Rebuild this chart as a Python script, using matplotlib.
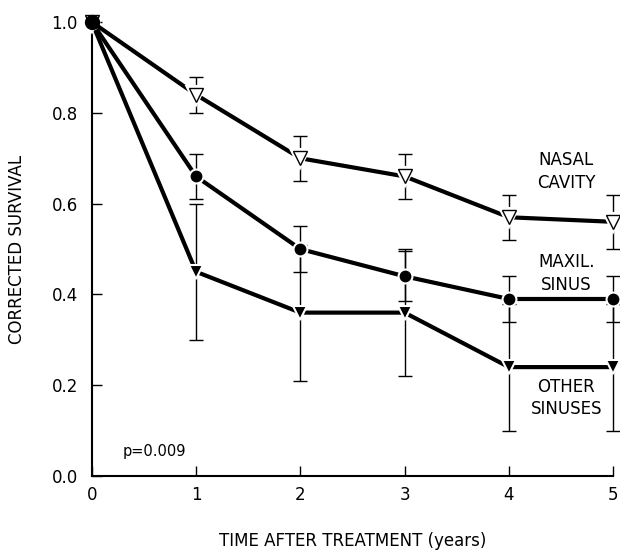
import numpy as np
import matplotlib
matplotlib.use("Agg")
import matplotlib.pyplot as plt

# survival data
years = [0, 1, 2, 3, 4, 5]

nasal = [1.0, 0.84, 0.70, 0.66, 0.57, 0.56]
nasal_err = [0.0, 0.04, 0.05, 0.05, 0.05, 0.06]

maxil = [1.0, 0.66, 0.50, 0.44, 0.39, 0.39]
maxil_err = [0.0, 0.05, 0.05, 0.055, 0.05, 0.05]

other = [1.0, 0.45, 0.36, 0.36, 0.24, 0.24]
other_err = [0.0, 0.15, 0.15, 0.14, 0.14, 0.14]

plt.rcParams['font.family'] = ['DejaVu Sans']

fig = plt.figure(figsize=(6.2, 5.51), dpi=100)
ax = fig.add_axes([0.148, 0.136, 0.841, 0.824])

# error bars first (thin), then thick lines and markers
for y, e in [(nasal, nasal_err), (maxil, maxil_err), (other, other_err)]:
    ax.errorbar(years[1:], y[1:], yerr=e[1:], fmt='none', ecolor='black',
                elinewidth=1.0, capsize=5, capthick=1.0, clip_on=False, zorder=2)

ax.plot(years, other, color='black', lw=3, marker='v', ms=10,
        mfc='black', mec='white', mew=1.5, clip_on=False, zorder=3)
ax.plot(years, maxil, color='black', lw=3, marker='o', ms=10,
        mfc='black', mec='white', mew=1.5, clip_on=False, zorder=4)
ax.plot(years, nasal, color='black', lw=3, marker='v', ms=12,
        mfc='white', mec='white', mew=3, clip_on=False, zorder=5)
ax.plot(years, nasal, color='none', lw=0, marker='v', ms=10,
        mfc='white', mec='black', mew=1.0, clip_on=False, zorder=6)
ax.plot([0], [1.0], marker='o', ms=10, color='black', clip_on=False, zorder=7)

ax.set_xlim(0, 5)
ax.set_ylim(0, 1.0)
ax.set_xticks(years)
ax.set_yticks([0.0, 0.2, 0.4, 0.6, 0.8, 1.0])
ax.set_yticklabels(['0.0', '0.2', '0.4', '0.6', '0.8', '1.0'])
ax.tick_params(direction='in', length=7, width=1, labelsize=12)
ax.tick_params(axis='y', pad=10)
ax.tick_params(axis='x', pad=7)
for s in ['top', 'right']:
    ax.spines[s].set_visible(False)
for s in ['left', 'bottom']:
    ax.spines[s].set_linewidth(1.5)

ax.set_xlabel('TIME AFTER TREATMENT (years)', fontsize=12, labelpad=20)
ax.set_ylabel('CORRECTED SURVIVAL', fontsize=12, labelpad=18)

ax.text(4.55, 0.67, 'NASAL\nCAVITY', ha='center', va='center', fontsize=12,
        linespacing=1.35)
ax.text(4.55, 0.447, 'MAXIL.\nSINUS', ha='center', va='center', fontsize=12,
        linespacing=1.35)
ax.text(4.55, 0.172, 'OTHER\nSINUSES', ha='center', va='center', fontsize=12,
        linespacing=1.35)
ax.text(0.3, 0.045, 'p=0.009', fontsize=10.5)

fig.savefig('out.png', dpi=100)
